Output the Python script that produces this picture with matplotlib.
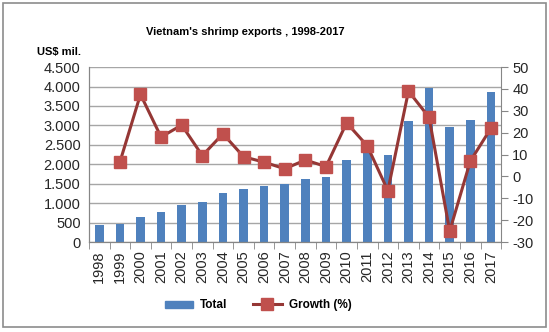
import matplotlib
matplotlib.use("Agg")
import matplotlib.pyplot as plt
from matplotlib.ticker import FuncFormatter, MultipleLocator
from matplotlib.patches import Rectangle
from matplotlib.lines import Line2D
from matplotlib.patches import Patch

years = [str(y) for y in range(1998, 2018)]
total = [450, 470, 650, 760, 960, 1040, 1250, 1360, 1450, 1500,
         1620, 1680, 2110, 2390, 2230, 3100, 3950, 2950, 3130, 3850]
growth_years = years[1:]
growth = [6.5, 37.5, 18, 23.5, 9.5, 19.5, 9, 6.5, 3.5, 7.5,
          4.5, 24.5, 14, -6.5, 39, 27, -25, 7, 22]

plt.rcParams['font.family'] = ['Liberation Sans', 'DejaVu Sans']
plt.rcParams['axes.unicode_minus'] = False

fig = plt.figure(figsize=(5.49, 3.32), dpi=100)
ax = fig.add_axes([0.162, 0.271, 0.751, 0.527])
ax2 = ax.twinx()

x = list(range(len(years)))
ax.bar(x, total, width=0.42, color='#4F81BD', zorder=2)
ax.set_ylim(0, 4500)
ax.yaxis.set_major_locator(MultipleLocator(500))
ax.yaxis.set_major_formatter(FuncFormatter(lambda v, p: f"{int(v):,}".replace(",", ".")))
ax.grid(axis='y', color='#A6A6A6', linewidth=1, zorder=0)
ax.set_axisbelow(True)
ax.set_xlim(-0.5, len(years) - 0.5)
ax.set_xticks(x)
ax.set_xticklabels(years, rotation=90, fontsize=10.5, color='#262626')
ax.tick_params(axis='y', labelsize=10.5, length=0, pad=6, labelcolor='#262626')
ax.set_xticks([i - 0.5 for i in x] + [len(years) - 0.5], minor=True)
ax.tick_params(axis='x', which='major', length=0, pad=6)
ax.tick_params(axis='x', which='minor', length=5, color='#868686')

gx = [years.index(y) for y in growth_years]
ax2.plot(gx, growth, color='#953735', linewidth=2.2, marker='s', markersize=8,
         markerfacecolor='#C0504D', markeredgecolor='#C0504D', zorder=3)
ax2.set_ylim(-30, 50)
ax2.yaxis.set_major_locator(MultipleLocator(10))
ax2.tick_params(axis='y', labelsize=10.5, length=5, color='#868686', pad=3, labelcolor='#262626')

for a in (ax, ax2):
    a.spines['top'].set_visible(False)
ax.spines['right'].set_visible(False)
for a in (ax, ax2):
    for s in ('left', 'right', 'bottom'):
        a.spines[s].set_color('#868686')

fig.text(0.447, 0.905, "Vietnam's shrimp exports , 1998-2017", ha='center', va='center',
         fontsize=8, fontweight='bold')
fig.text(0.068, 0.842, "US$ mil.", ha='left', va='center', fontsize=8, fontweight='bold')

handles = [Patch(color='#4F81BD'),
           Line2D([0], [0], color='#953735', linewidth=2.2, marker='s', markersize=8,
                  markerfacecolor='#C0504D', markeredgecolor='#C0504D')]
fig.legend(handles, ['Total', 'Growth (%)'], loc='center', bbox_to_anchor=(0.47, 0.08),
           ncol=2, frameon=False, prop={'weight': 'bold', 'size': 8.5},
           handlelength=2.4, handleheight=0.6, columnspacing=2.2, handletextpad=0.6)

fig.patches.append(Rectangle((0.006, 0.015), 0.988, 0.975, transform=fig.transFigure,
                             fill=False, edgecolor='#8C8C8C', linewidth=1.2))

fig.savefig("out.png", dpi=100)
